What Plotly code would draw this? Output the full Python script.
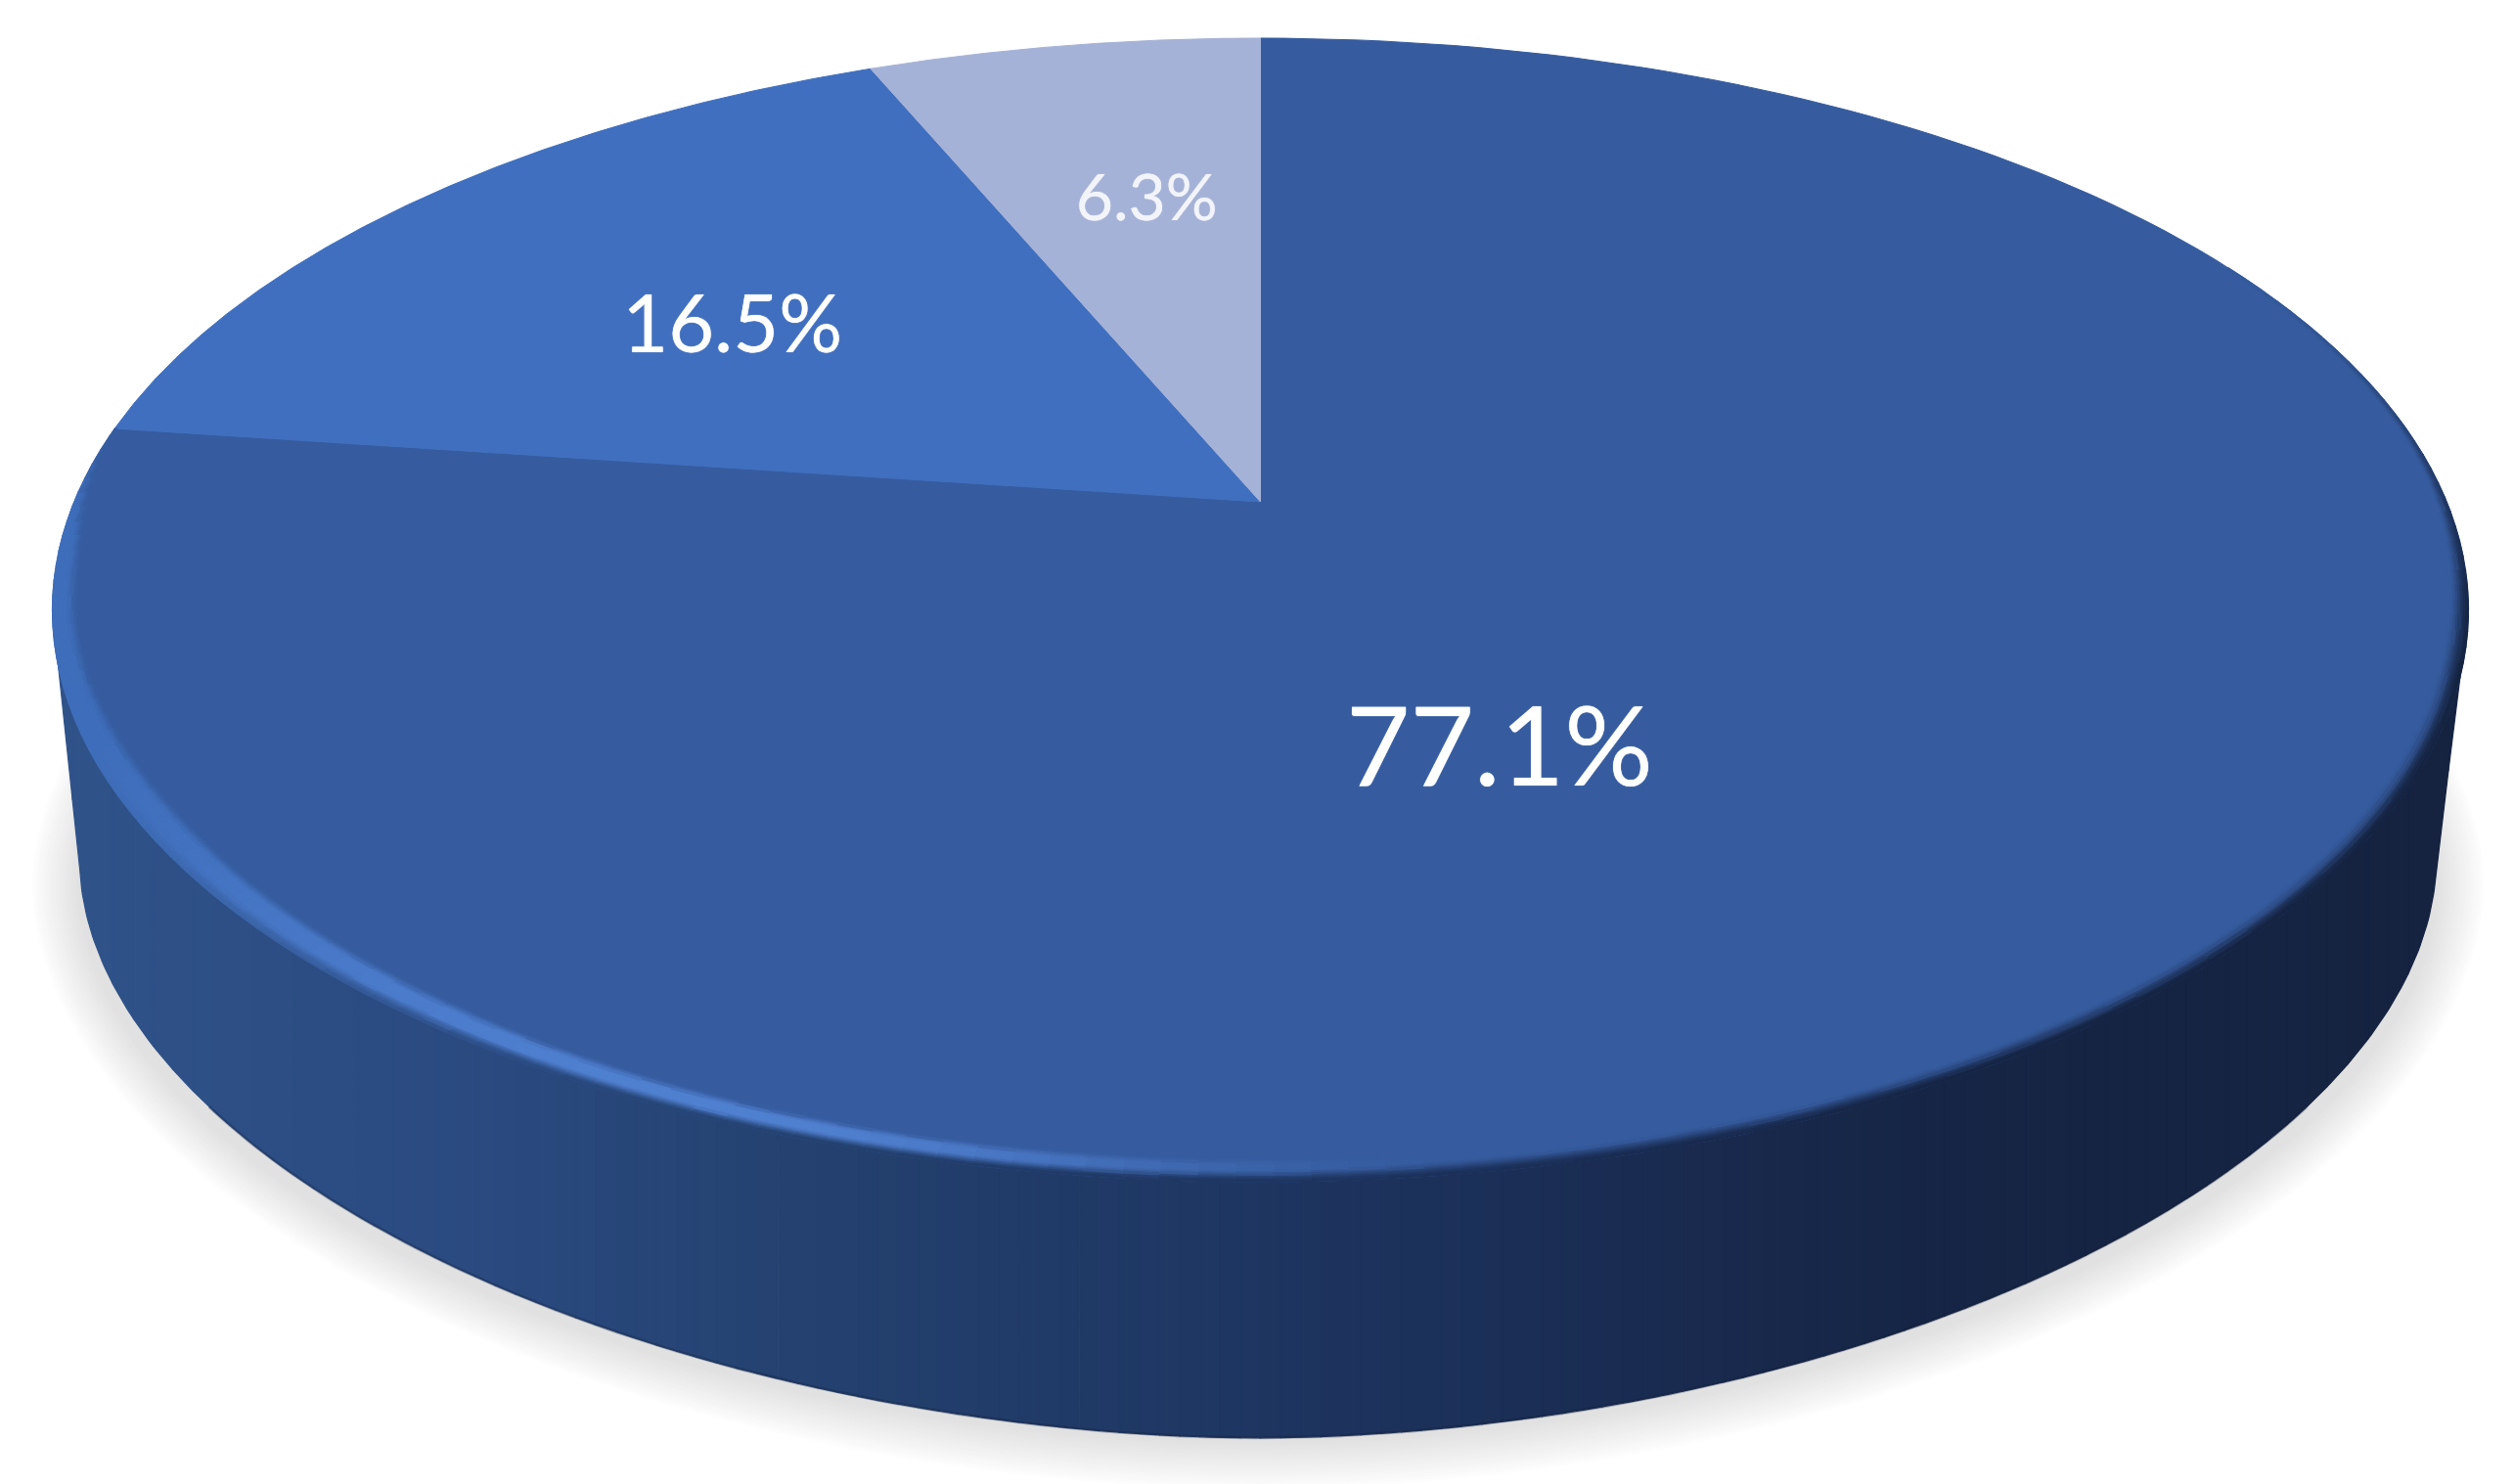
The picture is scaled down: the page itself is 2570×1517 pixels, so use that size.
import numpy as np
import plotly.graph_objects as go

# ---- data ----
slice_values = [77.1, 16.5, 6.3]
slice_labels = ["77.1%", "16.5%", "6.3%"]
slice_colors = ["#365c9f", "#406fbf", "#a5b2d7"]
label_colors = ["#ffffff", "#ffffff", "#f2f4fa"]
label_sizes = [113, 81, 66]
label_radius = [0.465, 0.5747, 0.612]
label_turn = [17.6, -2.9, 1.3]

# ---- view of the disc (page pixels) ----
W, H = 2570, 1517
PAGE_PAD = 8
TOP = dict(cx=1288.5, cy=513.0, a=1212.7, b=563.6, k=0.189, e=1.0)
BOT = dict(cx=1286.0, cy=793.4, a=1189.0, b=548.6, k=0.189, e=1.07)
TAN = 100.9


def proj(theta_deg, r, g):
    t = np.radians(theta_deg)
    s, c = np.sin(t), np.cos(t)
    X = r * np.sign(s) * np.abs(s) ** g["e"]
    Y = r * np.sign(c) * np.abs(c) ** g["e"]
    d = 1 + g["k"] * Y
    return g["cx"] + g["a"] * X / d, g["cy"] - g["b"] * Y / d


def rgb(h):
    return np.array([int(h[i:i + 2], 16) for i in (1, 3, 5)], float)


def hexc(c):
    return "#%02x%02x%02x" % tuple(int(round(v)) for v in np.clip(c, 0, 255))


def sstep(a, b, x):
    t = np.clip((x - a) / (b - a), 0, 1)
    return t * t * (3 - 2 * t)


side_stops_x = [80, 490, 820, 1260, 1640, 1970, 2530]
side_stops_c = ["#2f5289", "#2a4a80", "#24416f", "#1e3662", "#1a2c52", "#162545", "#152340"]


def wall_color(x):
    return np.array([np.interp(x, side_stops_x, [rgb(c)[j] for c in side_stops_c]) for j in range(3)])


class Batch:
    """Collect polygons per colour, keep first-use order."""
    def __init__(self):
        self.d = {}

    def add(self, color, xs, ys):
        e = self.d.setdefault(color, ([], []))
        e[0].extend(list(xs) + [xs[0], None])
        e[1].extend(list(ys) + [ys[0], None])

    def traces(self):
        return [go.Scatter(x=v[0], y=v[1], mode="lines", fill="toself", fillcolor=c,
                           line=dict(color=c, width=1.2), hoverinfo="skip", showlegend=False)
                for c, v in self.d.items()]


fig = go.Figure()

# soft ground shadow: nested outlines following the foot of the wall
shadow = Batch()
levels = 20
tt = np.linspace(0, 360, 241)
s_, c_ = np.sin(np.radians(tt)), np.cos(np.radians(tt))
for i in range(levels):
    f = 1 - i / (levels - 1)            # 1 outermost -> 0 innermost
    grow = 50 * f
    col = 255 - (255 - 225) * (1 - f) ** 0.9
    x = 1286 + (1205 + grow) * np.sign(s_) * np.abs(s_) ** 1.05
    y = 905 + (569 + grow) * np.sign(c_) * np.abs(c_) ** 1.05
    shadow.add(hexc([col, col, col]), x.tolist(), y.tolist())
fig.add_traces(shadow.traces())

# side wall: vertical colour bands under the foot outline of the cylinder
foot_th = np.linspace(360 - TAN, TAN, 300)
fx, fy = proj(foot_th, 1, BOT)
lx0, ly0 = proj(360 - TAN, 1, TOP)
rx0, ry0 = proj(TAN, 1, TOP)
sil_x = np.concatenate([[lx0], fx, [rx0]])
sil_y = np.concatenate([[ly0], fy, [ry0]])
wall_top = max(ly0, ry0) - 4
side = Batch()
band_edges = np.linspace(lx0, rx0, 121)
for xa, xb in zip(band_edges[:-1], band_edges[1:]):
    xs_in = sil_x[(sil_x > xa) & (sil_x < xb)]
    xs = np.concatenate([[xa], xs_in, [xb]])
    ys = np.interp(xs, sil_x, sil_y)
    side.add(hexc(wall_color((xa + xb) / 2)),
             [xa] + xs.tolist() + [xb],
             [wall_top] + ys.tolist() + [wall_top])
fig.add_traces(side.traces())
ang = np.linspace(125, 235, 160)
bx, by = proj(ang, 1, BOT)
fig.add_trace(go.Scatter(x=bx, y=by, mode="lines", line=dict(color="#12203c", width=3),
                         opacity=0.3, hoverinfo="skip", showlegend=False))

# top face: slices are laid out clockwise from twelve o'clock from the values
total = sum(slice_values)
edges = np.concatenate([[0], np.cumsum(slice_values) / total * 360])
for i, c in enumerate(slice_colors):
    th = np.linspace(edges[i], edges[i + 1], 200)
    x, y = proj(th, 1, TOP)
    x0, y0 = proj(0, 0, TOP)
    fig.add_trace(go.Scatter(x=[x0] + x.tolist() + [x0], y=[y0] + y.tolist() + [y0], mode="lines",
                             fill="toself", fillcolor=c, line=dict(color=c, width=1),
                             hoverinfo="skip", showlegend=False))

# bevel of the big slice
main = rgb(slice_colors[0])
light_l = rgb("#3f6ebb")
light_f = rgb("#5080d0")
bevel = Batch()
rs = np.linspace(0.96, 1.0, 21)
for th in np.arange(40, edges[1], 1.5):
    th2 = min(th + 1.5, edges[1])
    mid = (th + th2) / 2
    w = sstep(172, 200, mid)
    fr = 1 - sstep(205, 250, mid)            # bright narrow peak at the front
    v = sstep(60, 110, mid) * (1 - sstep(205, 250, mid))
    edge_x, _ = proj(mid, 1, TOP)
    dark = wall_color(edge_x)
    start = 0.994 - 0.012 * sstep(80, 110, mid) + 0.006 * sstep(165, 195, mid)
    for r0, r1 in zip(rs[:-1], rs[1:]):
        r = (r0 + r1) / 2
        low = 0.972 - 0.004 * sstep(195, 225, mid) + 0.012 * sstep(235, 262, mid) + 0.018 * sstep(262, 278, mid)
        high = low + 0.010
        h = sstep(low, high, r) * w
        light = light_f * fr + light_l * (1 - fr)
        col = main + (light - main) * h
        col = col + (dark - col) * sstep(start, 1.0, r) * v
        hc = hexc(col)
        if hc == slice_colors[0]:
            continue
        xa, ya = proj(th, r0, TOP); xb, yb = proj(th2, r0, TOP)
        xc, yc = proj(th2, r1, TOP); xd, yd = proj(th, r1, TOP)
        bevel.add(hc, [xa, xb, xc, xd], [ya, yb, yc, yd])
fig.add_traces(bevel.traces())

# labels
for i, lab in enumerate(slice_labels):
    mid = (edges[i] + edges[i + 1]) / 2 + label_turn[i]
    lx, ly = proj(mid, label_radius[i], TOP)
    fig.add_trace(go.Scatter(x=[lx], y=[ly], mode="text", text=[lab], textposition="middle center",
                             textfont=dict(family="Lato", size=label_sizes[i], color=label_colors[i],
                                           shadow="0 0 1px " + label_colors[i]),
                             hoverinfo="skip", showlegend=False))

fig.update_layout(
    width=W, height=H, autosize=False, margin=dict(l=0, r=0, t=0, b=0),
    paper_bgcolor="#ffffff", plot_bgcolor="#ffffff", showlegend=False,
    xaxis=dict(range=[PAGE_PAD, W + PAGE_PAD], visible=False, fixedrange=True),
    yaxis=dict(range=[H + PAGE_PAD, PAGE_PAD], visible=False, fixedrange=True),
)
fig.write_html("out.html", config=dict(displayModeBar=False))
